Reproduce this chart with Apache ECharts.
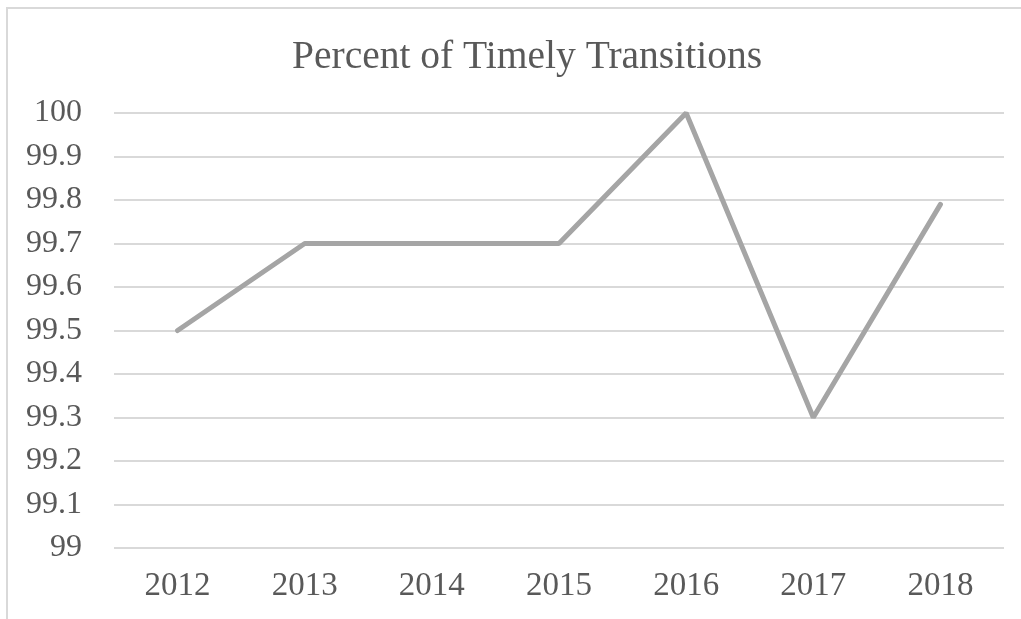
<!DOCTYPE html>
<html lang="en">
<head>
	<meta charset="UTF-8">
	<title>Percent of Timely Transitions</title>
	<style>
		html, body { margin: 0; padding: 0; background: #fff; overflow: hidden; }
		#frame { position: absolute; left: 6px; top: 7px; width: 1100px; height: 700px; border: 2px solid #d9d9d9; box-sizing: border-box; }
		#main { position: absolute; left: 0; top: 0; width: 1021px; height: 619px; }
	</style>
</head>
<body>
	<div id="frame"></div>
	<div id="main"></div>
	<script src="https://cdn.jsdelivr.net/npm/echarts@6/dist/echarts.min.js"></script>
	<script>
		var years = ['2012', '2013', '2014', '2015', '2016', '2017', '2018']
		var percent = [99.5, 99.7, 99.7, 99.7, 100, 99.3, 99.79]
		var yMin = 99, yMax = 100, yStep = 0.1

		var serif = 'Liberation Serif, Times New Roman, serif'
		var textColor = '#595959'

		var myChart = echarts.init(document.getElementById('main'))
		var option = {
			animation: false,
			title: {
				text: 'Percent of Timely Transitions',
				left: 522,
				top: 33,
				textAlign: 'center',
				textStyle: { fontFamily: serif, fontSize: 39.5, fontWeight: 'normal', color: textColor }
			},
			grid: { left: 114, right: 17, top: 113, bottom: 71 },
			xAxis: {
				type: 'category',
				data: years,
				boundaryGap: true,
				axisLine: { show: false },
				axisTick: { show: false },
				axisLabel: { fontFamily: serif, fontSize: 33, color: textColor, margin: 22 }
			},
			yAxis: {
				type: 'value',
				min: yMin,
				max: yMax,
				interval: yStep,
				axisLine: { show: false },
				axisTick: { show: false },
				splitLine: { lineStyle: { color: '#d9d9d9', width: 2 } },
				axisLabel: {
					fontFamily: serif, fontSize: 32, color: textColor, margin: 32,
					formatter: function (v) { return String(+v.toFixed(1)) }
				}
			},
			series: [{
				name: 'Percent',
				type: 'line',
				data: percent,
				symbol: 'none',
				lineStyle: { color: '#a5a5a5', width: 5, cap: 'round' }
			}]
		}
		myChart.setOption(option)
	</script>
</body>
</html>
